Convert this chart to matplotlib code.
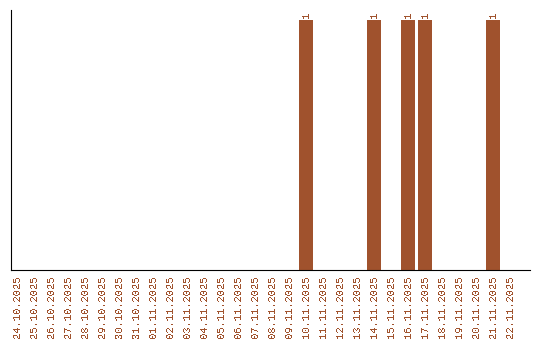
import matplotlib
matplotlib.use("Agg")
import matplotlib.pyplot as plt

dates = ["24.10.2025", "25.10.2025", "26.10.2025", "27.10.2025", "28.10.2025",
         "29.10.2025", "30.10.2025", "31.10.2025", "01.11.2025", "02.11.2025",
         "03.11.2025", "04.11.2025", "05.11.2025", "06.11.2025", "07.11.2025",
         "08.11.2025", "09.11.2025", "10.11.2025", "11.11.2025", "12.11.2025",
         "13.11.2025", "14.11.2025", "15.11.2025", "16.11.2025", "17.11.2025",
         "18.11.2025", "19.11.2025", "20.11.2025", "21.11.2025", "22.11.2025"]
counts = [0, 0, 0, 0, 0, 0, 0, 0, 0, 0,
          0, 0, 0, 0, 0, 0, 0, 1, 0, 0,
          0, 1, 0, 1, 1, 0, 0, 0, 1, 0]

color = "#A0522D"
font = "Liberation Mono"
plt.rcParams["text.antialiased"] = False

fig = plt.figure(figsize=(5.4, 3.4), dpi=100)
ax = fig.add_axes([11 / 540, 70 / 340, 519 / 540, 260 / 340])

x = list(range(len(dates)))
ax.bar(x, counts, width=0.82, color=color)

for xi, c in zip(x, counts):
    if c > 0:
        ax.text(xi, c + 0.01, str(c), rotation=90, ha="center", va="bottom",
                fontsize=7.5, family=font, color=color)

ax.set_xlim(-0.35, 30.18)
ax.set_ylim(0, 1.04)
ax.set_xticks(x)
ax.set_xticklabels(dates, rotation=90, fontsize=7.5, family=font, color=color)
ax.set_yticks([])
ax.tick_params(axis="x", length=0, pad=4)
ax.spines["top"].set_visible(False)
ax.spines["right"].set_visible(False)

fig.savefig("out.png", dpi=100)
